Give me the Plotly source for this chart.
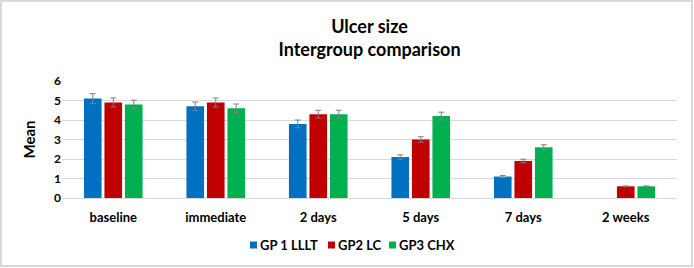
import plotly.graph_objects as go

categories = ["baseline", "immediate", "2 days", "5 days", "7 days", "2 weeks"]
series_names = ["GP 1 LLLT", "GP2 LC", "GP3 CHX"]
gp1_mean = [5.1, 4.7, 3.8, 2.1, 1.1, None]
gp2_mean = [4.9, 4.9, 4.3, 3.0, 1.9, 0.6]
gp3_mean = [4.8, 4.6, 4.3, 4.2, 2.6, 0.6]
gp1_err = [0.25, 0.22, 0.2, 0.11, 0.05, None]
gp2_err = [0.23, 0.23, 0.2, 0.14, 0.09, 0.02]
gp3_err = [0.22, 0.22, 0.2, 0.2, 0.13, 0.02]
colors = ["#0070C0", "#C00000", "#00B050"]

W, H = 694, 268
L, R, T, B = 62, 17, 81, 70
pw, ph = W - L - R, H - T - B

font_family = "Lato, 'Open Sans', sans-serif"
title_family = "'Liberation Sans Narrow', Lato, sans-serif"

def px_x(p):
    return (p - L) / pw

def px_y(p):
    return (H - B - p) / ph

fig = go.Figure()
for name, vals, errs, col in zip(series_names, [gp1_mean, gp2_mean, gp3_mean],
                                 [gp1_err, gp2_err, gp3_err], colors):
    fig.add_trace(go.Bar(
        x=categories, y=vals, name=name, marker_color=col,
        marker_line_width=0, showlegend=False,
        error_y=dict(type="data", array=errs, visible=True, color="#7f7f7f",
                     thickness=1, width=3),
    ))

fig.update_layout(
    width=W, height=H,
    margin=dict(l=L, r=R, t=T, b=B, pad=0),
    paper_bgcolor="white", plot_bgcolor="white",
    barmode="group", bargap=0.4, bargroupgap=0.14,
    font=dict(family=font_family, color="#404040"),
    title=dict(text="<b>Ulcer size</b><br><b>Intergroup comparison</b>",
               x=0.5, xref="paper", xanchor="center",
               y=1 - 33 / H, yref="container", yanchor="top",
               font=dict(size=18, color="black", family=title_family)),
    xaxis=dict(showgrid=False, showline=False, ticks="",
               ticklabelstandoff=10,
               tickfont=dict(size=13, color="black", family=font_family),
               tickprefix="<b>", ticksuffix="</b>"),
    yaxis=dict(range=[0, 6], dtick=1, showgrid=True, gridcolor="#d9d9d9",
               gridwidth=1, zeroline=True, zerolinecolor="#d9d9d9",
               zerolinewidth=1, showline=False, ticks="",
               tickfont=dict(size=12, color="black", family=font_family),
               tickprefix="<b>", ticksuffix="</b>",
               title=dict(text="<b>Mean</b>", standoff=14,
                          font=dict(size=15, color="black", family=font_family))),
    showlegend=False,
)

# legend drawn as text entries
legend_items = [(250, series_names[0]), (328, series_names[1]), (389, series_names[2])]
for (xp, name), col in zip(legend_items, colors):
    fig.add_shape(type="rect", xref="paper", yref="paper",
                  x0=px_x(xp), x1=px_x(xp + 7), y0=px_y(248.5), y1=px_y(241.5),
                  fillcolor=col, line=dict(width=0))
    fig.add_annotation(xref="paper", yref="paper", x=px_x(xp + 8), y=px_y(245),
                       xanchor="left", yanchor="middle", showarrow=False,
                       text="<b>" + name + "</b>",
                       font=dict(size=13, color="black", family=font_family))

# outer light border
fig.add_shape(type="rect", xref="paper", yref="paper",
              x0=px_x(1), x1=px_x(W - 2), y0=px_y(H - 2), y1=px_y(1),
              line=dict(color="#d9d9d9", width=2), fillcolor="rgba(0,0,0,0)",
              layer="below")

fig.write_html("out.html")
